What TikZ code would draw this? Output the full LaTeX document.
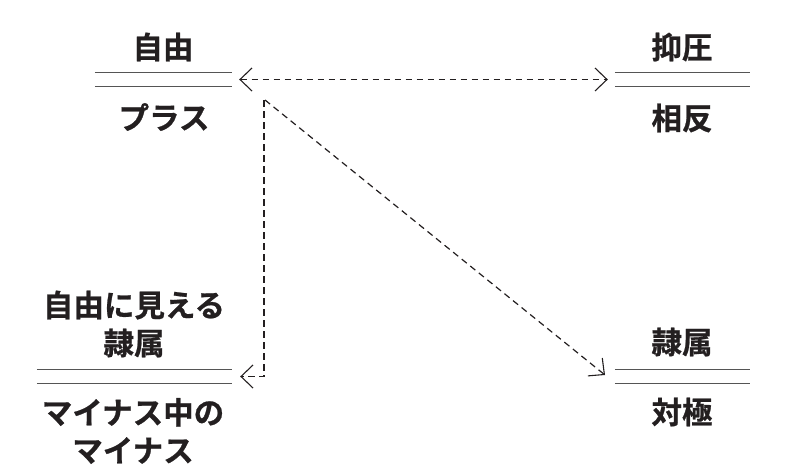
\documentclass[tikz,border=0pt]{standalone}
\usepackage{fontspec}
\newfontfamily\cjk{Noto Sans CJK JP}[BoldFont={Noto Sans CJK JP Bold},BoldFeatures={FakeBold=0.8}]
\usetikzlibrary{arrows.meta}
\definecolor{ink}{HTML}{231F20}
\definecolor{rule}{HTML}{555555}
\tikzset{
  lbl/.style={inner sep=0pt, align=center, text=ink, font=\cjk\bfseries\fontsize{30.5}{38}\selectfont},
  pair/.style={inner sep=0pt, minimum height=13pt},
  rules/.style={draw=rule, line width=1.1pt},
  conn/.style={draw=ink, line width=1.2pt, dash pattern=on 6.5pt off 4.5pt, -{Straight Barb[length=12pt,width=23pt,line width=1.1pt]}},
}
\begin{document}
\begin{tikzpicture}[x=1pt,y=-1pt]
\useasboundingbox (0,0) rectangle (800,474);
% double-rule nodes
\node[pair, minimum width=137pt] (tl) at (163.5,79.5) {};
\node[pair, minimum width=135pt] (tr) at (682.5,79.5) {};
\node[pair, minimum width=195pt] (bl) at (134.5,376.5) {};
\node[pair, minimum width=135pt] (br) at (682.5,376.5) {};
\foreach \n in {tl,tr,bl,br}{
  \draw[rules] (\n.north west) -- (\n.north east);
  \draw[rules] (\n.south west) -- (\n.south east);
}
% labels
\node[lbl] (t1) at (163,47) {自由};
\node[lbl] (t2) at (164,117) {プラス};
\node[lbl] (t3) at (682,47) {抑圧};
\node[lbl] (t4) at (682,118) {相反};
\node[lbl] (t5) at (134,324) {自由に見える\\隷属};
\node[lbl] (t6) at (133,431) {マイナス中の\\マイナス};
\node[lbl] (t7) at (682,342) {隷属};
\node[lbl] (t8) at (682,412) {対極};
% connectors
\coordinate (d0) at (265,100);
\coordinate (e0) at (264,100);
\coordinate (d1) at (605,375);
\draw[conn, {Straight Barb[length=12pt,width=23pt,line width=1.1pt]}-{Straight Barb[length=12pt,width=23pt,line width=1.1pt]}, shorten <=7pt, shorten >=7pt] (tl.east) -- (tr.west);
\draw[conn] (d0) -- (d1);
\draw[conn, shorten >=8pt] (e0) |- (bl.east);
\end{tikzpicture}
\end{document}
